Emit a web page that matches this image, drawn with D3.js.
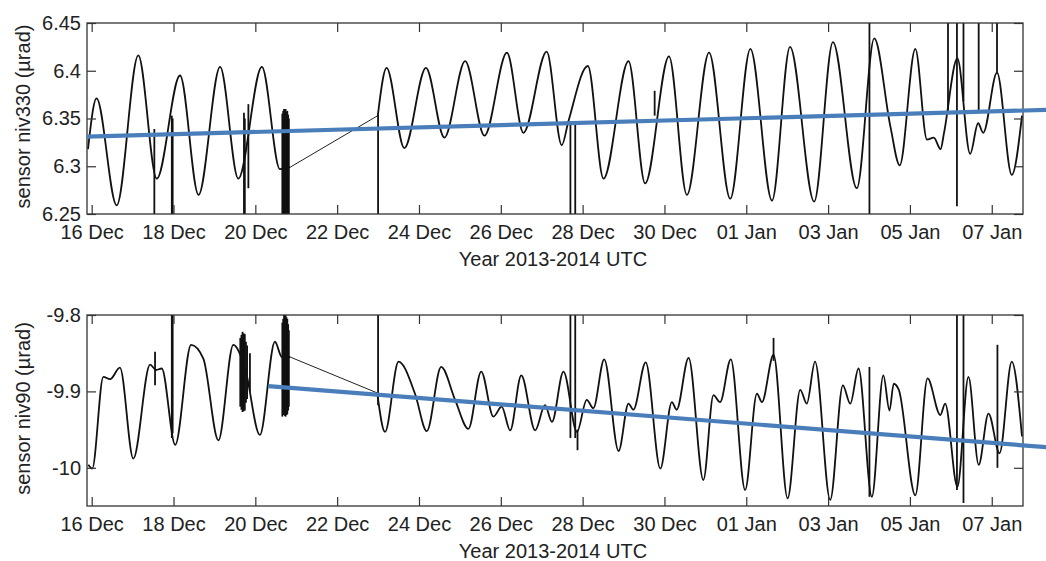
<!DOCTYPE html>
<html><head><meta charset="utf-8">
<script src="https://cdn.jsdelivr.net/npm/d3@7"></script>
<style>
body{margin:0;background:#fff}
text{font-family:"Liberation Sans",Arial,Helvetica,sans-serif;fill:#222}
</style>
</head><body>
<svg id="c" width="1046" height="561"></svg>
<script>
// ---------- data ----------
const xDomain = ["2013-12-15 21:15", "2014-01-07 18:20"];
const xTickDates = ["2013-12-16 00:00","2013-12-18 00:00","2013-12-20 00:00","2013-12-22 00:00","2013-12-24 00:00","2013-12-26 00:00","2013-12-28 00:00","2013-12-30 00:00","2014-01-01 00:00","2014-01-03 00:00","2014-01-05 00:00","2014-01-07 00:00"];
const xTickLabels = ["16 Dec","18 Dec","20 Dec","22 Dec","24 Dec","26 Dec","28 Dec","30 Dec","01 Jan","03 Jan","05 Jan","07 Jan"];
const xAxisTitle = "Year 2013-2014 UTC";

const niv330Domain = [6.25, 6.45];
const niv330Ticks = [6.25, 6.3, 6.35, 6.4, 6.45];
const niv330TickLabels = ["6.25","6.3","6.35","6.4","6.45"];
const niv330Title = "sensor niv330 (\u00b5rad)";

const niv90Domain = [-10.05, -9.8];
const niv90Ticks = [-10, -9.9, -9.8];
const niv90TickLabels = ["-10","-9.9","-9.8"];
const niv90Title = "sensor niv90 (\u00b5rad)";

// niv330 record before the data gap
const niv330SegA = [
  ["2013-12-15 21:50",6.318],["2013-12-16 02:50",6.371],["2013-12-16 14:40",6.259],
  ["2013-12-17 03:20",6.416],["2013-12-17 14:10",6.287],["2013-12-18 03:50",6.395],
  ["2013-12-18 14:40",6.270],["2013-12-19 03:20",6.404],["2013-12-19 14:00",6.287],
  ["2013-12-20 03:50",6.404],["2013-12-20 14:25",6.297],["2013-12-20 20:25",6.299]
];
// niv330 record after the data gap
const niv330SegB = [
  ["2013-12-22 23:50",6.353],["2013-12-23 05:00",6.403],["2013-12-23 15:25",6.319],
  ["2013-12-24 04:05",6.403],["2013-12-24 14:55",6.330],["2013-12-25 03:05",6.410],
  ["2013-12-25 14:25",6.332],["2013-12-26 03:35",6.419],["2013-12-26 13:15",6.335],
  ["2013-12-27 02:55",6.420],["2013-12-27 11:45",6.322],["2013-12-27 15:40",6.347],
  ["2013-12-28 03:05",6.405],["2013-12-28 12:15",6.287],["2013-12-29 02:55",6.410],
  ["2013-12-29 12:40",6.282],["2013-12-30 02:40",6.415],["2013-12-30 13:10",6.270],
  ["2013-12-31 02:10",6.419],["2013-12-31 14:35",6.266],["2014-01-01 02:25",6.423],
  ["2014-01-01 15:05",6.264],["2014-01-02 01:40",6.425],["2014-01-02 15:50",6.263],
  ["2014-01-03 02:50",6.430],["2014-01-03 16:50",6.277],["2014-01-04 03:05",6.434],
  ["2014-01-04 12:30",6.342],["2014-01-04 18:00",6.301],["2014-01-05 03:10",6.423],
  ["2014-01-05 10:00",6.328],["2014-01-05 14:00",6.330],["2014-01-05 18:00",6.318],
  ["2014-01-05 20:00",6.335],["2014-01-06 03:50",6.413],["2014-01-06 11:20",6.313],
  ["2014-01-06 16:00",6.345],["2014-01-06 19:00",6.335],["2014-01-07 03:05",6.398],
  ["2014-01-07 11:45",6.291],["2014-01-07 17:45",6.353]
];
// niv330 glitches: [time, low, high]
const niv330Spikes = [
  ["2013-12-17 12:45",6.24,6.339],["2013-12-17 23:00",6.24,6.353],["2013-12-17 23:30",6.24,6.350],
  ["2013-12-19 17:20",6.24,6.356],["2013-12-19 17:50",6.24,6.350],["2013-12-19 19:55",6.277,6.365],
  ["2013-12-20 15:50",6.24,6.355],["2013-12-20 16:20",6.24,6.358],["2013-12-20 16:50",6.24,6.360],
  ["2013-12-20 17:20",6.24,6.359],["2013-12-20 17:45",6.24,6.360],["2013-12-20 18:15",6.24,6.357],
  ["2013-12-20 18:45",6.24,6.358],["2013-12-20 19:15",6.24,6.354],["2013-12-20 19:40",6.24,6.350],
  ["2013-12-23 00:00",6.24,6.354],
  ["2013-12-27 16:50",6.24,6.346],["2013-12-27 19:40",6.24,6.346],["2013-12-29 18:15",6.353,6.379],
  ["2014-01-04 00:15",6.24,6.46],["2014-01-05 22:20",6.358,6.46],["2014-01-06 03:35",6.258,6.46],
  ["2014-01-06 07:25",6.368,6.46],["2014-01-06 16:20",6.358,6.46],["2014-01-07 03:05",6.397,6.46]
];
const niv330Trend = [["2013-12-15 21:15",6.331],["2014-01-08 07:55",6.359]];

const niv90SegA = [
  ["2013-12-15 22:00",-9.996],["2013-12-16 00:20",-10.001],["2013-12-16 06:50",-9.881],
  ["2013-12-16 10:45",-9.884],["2013-12-16 16:35",-9.869],["2013-12-17 00:25",-9.988],
  ["2013-12-17 10:15",-9.865],["2013-12-17 13:45",-9.872],["2013-12-17 17:05",-9.870],
  ["2013-12-18 01:00",-9.970],["2013-12-18 10:20",-9.839],["2013-12-18 17:30",-9.857],
  ["2013-12-19 02:20",-9.964],["2013-12-19 11:05",-9.839],["2013-12-19 18:00",-9.870],
  ["2013-12-20 02:40",-9.957],["2013-12-20 11:30",-9.835],["2013-12-20 15:35",-9.855],
  ["2013-12-20 20:25",-9.855]
];
const niv90SegB = [
  ["2013-12-22 23:30",-9.902],["2013-12-23 04:05",-9.953],["2013-12-23 12:00",-9.861],
  ["2013-12-23 21:40",-9.903],["2013-12-24 04:35",-9.952],["2013-12-24 13:00",-9.868],
  ["2013-12-24 21:10",-9.911],["2013-12-25 05:00",-9.949],["2013-12-25 12:30",-9.874],
  ["2013-12-25 19:40",-9.933],["2013-12-26 00:30",-9.920],["2013-12-26 05:30",-9.951],
  ["2013-12-26 12:00",-9.879],["2013-12-26 20:10",-9.951],["2013-12-27 01:55",-9.918],
  ["2013-12-27 06:00",-9.940],["2013-12-27 12:45",-9.874],["2013-12-27 20:40",-9.953],
  ["2013-12-28 02:25",-9.911],["2013-12-28 06:15",-9.922],["2013-12-28 12:40",-9.858],
  ["2013-12-28 21:05",-9.978],["2013-12-29 02:55",-9.916],["2013-12-29 05:45",-9.924],
  ["2013-12-29 13:00",-9.862],["2013-12-29 21:35",-10.001],["2013-12-30 04:20",-9.914],
  ["2013-12-30 07:10",-9.924],["2013-12-30 14:10",-9.856],["2013-12-30 22:50",-10.016],
  ["2013-12-31 04:45",-9.905],["2013-12-31 08:40",-9.914],["2013-12-31 14:55",-9.858],
  ["2013-12-31 23:20",-10.029],["2014-01-01 06:15",-9.903],["2014-01-01 09:10",-9.914],
  ["2014-01-01 16:00",-9.852],["2014-01-02 00:15",-10.040],["2014-01-02 07:40",-9.898],
  ["2014-01-02 11:30",-9.916],["2014-01-02 16:20",-9.861],["2014-01-03 01:15",-10.042],
  ["2014-01-03 08:40",-9.892],["2014-01-03 13:00",-9.916],["2014-01-03 17:50",-9.870],
  ["2014-01-04 01:40",-10.038],["2014-01-04 08:25",-9.879],["2014-01-04 12:00",-9.925],
  ["2014-01-04 14:30",-9.890],["2014-01-04 17:30",-9.898],["2014-01-05 03:10",-10.036],
  ["2014-01-05 10:20",-9.883],["2014-01-05 17:50",-9.931],["2014-01-05 20:40",-9.916],
  ["2014-01-06 03:50",-10.025],["2014-01-06 10:20",-9.881],["2014-01-06 16:20",-9.996],
  ["2014-01-06 22:05",-9.929],["2014-01-07 04:35",-9.981],["2014-01-07 11:45",-9.861],
  ["2014-01-07 17:45",-9.959]
];
const niv90Spikes = [
  ["2013-12-17 13:10",-9.892,-9.848],["2013-12-17 23:00",-9.961,-9.79],["2013-12-17 23:30",-9.955,-9.79],
  ["2013-12-19 15:10",-9.920,-9.830],["2013-12-19 15:50",-9.924,-9.826],["2013-12-19 16:30",-9.927,-9.822],
  ["2013-12-19 17:10",-9.926,-9.824],["2013-12-19 17:50",-9.925,-9.825],["2013-12-19 18:30",-9.915,-9.835],
  ["2013-12-19 19:10",-9.910,-9.840],["2013-12-19 20:50",-9.900,-9.850],
  ["2013-12-20 15:50",-9.933,-9.810],["2013-12-20 16:20",-9.931,-9.805],["2013-12-20 16:50",-9.930,-9.800],
  ["2013-12-20 17:20",-9.932,-9.800],["2013-12-20 17:45",-9.933,-9.800],["2013-12-20 18:15",-9.931,-9.803],
  ["2013-12-20 18:45",-9.930,-9.805],["2013-12-20 19:15",-9.925,-9.812],["2013-12-20 19:40",-9.920,-9.820],
  ["2013-12-23 00:00",-9.918,-9.79],
  ["2013-12-27 16:50",-9.961,-9.79],["2013-12-27 19:40",-9.961,-9.79],["2013-12-27 21:00",-9.977,-9.950],
  ["2014-01-01 16:00",-9.860,-9.830],["2014-01-04 00:15",-10.038,-9.868],
  ["2014-01-06 03:35",-10.029,-9.79],["2014-01-06 07:25",-10.046,-9.79],["2014-01-07 03:20",-10.000,-9.839]
];
const niv90Trend = [["2013-12-20 07:40",-9.893],["2014-01-08 07:55",-9.973]];

// ---------- drawing ----------
const parse = d3.utcParse("%Y-%m-%d %H:%M");
const svg = d3.select("#c");
const plotLeft = 87, plotRight = 1023;
const x = d3.scaleUtc().domain(xDomain.map(parse)).range([plotLeft, plotRight]);
const tickDates = xTickDates.map(parse);
const trendColor = "#4a7ebb";

function drawPanel(p) {
  const y = d3.scaleLinear().domain(p.domain).range([p.bottom, p.top]);
  const g = svg.append("g");
  const clipId = "clip" + p.id;
  svg.append("clipPath").attr("id", clipId).append("rect")
    .attr("x", plotLeft).attr("y", p.top).attr("width", plotRight - plotLeft).attr("height", p.bottom - p.top);

  const pt = d => [x(parse(d[0])), y(d[1])];
  const data = g.append("g").attr("clip-path", `url(#${clipId})`);

  // gap connector
  data.append("path").datum([p.segA[p.segA.length - 1], p.segB[0]])
    .attr("d", d3.line().x(d => pt(d)[0]).y(d => pt(d)[1]))
    .attr("fill", "none").attr("stroke", "#222").attr("stroke-width", 1);
  // record
  [p.segA, p.segB].forEach(seg => {
    data.append("path").datum(seg)
      .attr("d", d3.line().x(d => pt(d)[0]).y(d => pt(d)[1]).curve(d3.curveMonotoneX))
      .attr("fill", "none").attr("stroke", "#111").attr("stroke-width", 1.8).attr("stroke-linejoin", "round");
  });
  // glitches
  data.selectAll(".spk").data(p.spikes).enter().append("line")
    .attr("x1", d => x(parse(d[0]))).attr("x2", d => x(parse(d[0])))
    .attr("y1", d => y(d[1])).attr("y2", d => y(d[2]))
    .attr("stroke", "#111").attr("stroke-width", 1.8);

  // frame + axes
  const yAxisL = d3.axisLeft(y).tickValues(p.ticks).tickFormat((d, i) => p.tickLabels[i]).tickSize(-9).tickSizeOuter(0).tickPadding(6);
  const yAxisR = d3.axisRight(y).tickValues(p.ticks).tickFormat("").tickSize(-9).tickSizeOuter(0);
  const xAxisB = d3.axisBottom(x).tickValues(tickDates).tickFormat((d, i) => xTickLabels[i]).tickSize(-9).tickSizeOuter(0).tickPadding(11);
  const xAxisT = d3.axisTop(x).tickValues(tickDates).tickFormat("").tickSize(-9).tickSizeOuter(0);
  const axes = [
    [yAxisL, `translate(${plotLeft},0)`], [yAxisR, `translate(${plotRight},0)`],
    [xAxisB, `translate(0,${p.bottom})`], [xAxisT, `translate(0,${p.top})`]
  ];
  axes.forEach(([ax, tr]) => {
    const a = svg.append("g").attr("transform", tr).call(ax);
    a.select(".domain").remove();
    a.selectAll("line").attr("stroke", "#333").attr("stroke-width", 1.2);
    a.selectAll("text").attr("font-size", 20).attr("fill", "#222")
      .attr("font-family", '"Liberation Sans", Arial, sans-serif');
  });
  svg.append("rect").attr("x", plotLeft).attr("y", p.top)
    .attr("width", plotRight - plotLeft).attr("height", p.bottom - p.top)
    .attr("fill", "none").attr("stroke", "#333").attr("stroke-width", 1.3);

  // trend line (extends past the frame, as in the original)
  svg.append("path").datum(p.trend)
    .attr("d", d3.line().x(d => pt(d)[0]).y(d => pt(d)[1]))
    .attr("stroke", trendColor).attr("stroke-width", 4.2).attr("fill", "none");

  // titles
  svg.append("text").attr("x", (plotLeft + plotRight) / 2 - 2).attr("y", p.bottom + 52)
    .attr("text-anchor", "middle").attr("font-size", 20).text(xAxisTitle);
  svg.append("text").attr("transform", `translate(30,${(p.top + p.bottom) / 2 - 2}) rotate(-90)`)
    .attr("text-anchor", "middle").attr("font-size", 20).text(p.title);
}

drawPanel({id: "a", top: 23, bottom: 214, domain: niv330Domain, ticks: niv330Ticks, tickLabels: niv330TickLabels,
  title: niv330Title, segA: niv330SegA, segB: niv330SegB, spikes: niv330Spikes, trend: niv330Trend});
drawPanel({id: "b", top: 315, bottom: 506, domain: niv90Domain, ticks: niv90Ticks, tickLabels: niv90TickLabels,
  title: niv90Title, segA: niv90SegA, segB: niv90SegB, spikes: niv90Spikes, trend: niv90Trend});
</script>
</body></html>
